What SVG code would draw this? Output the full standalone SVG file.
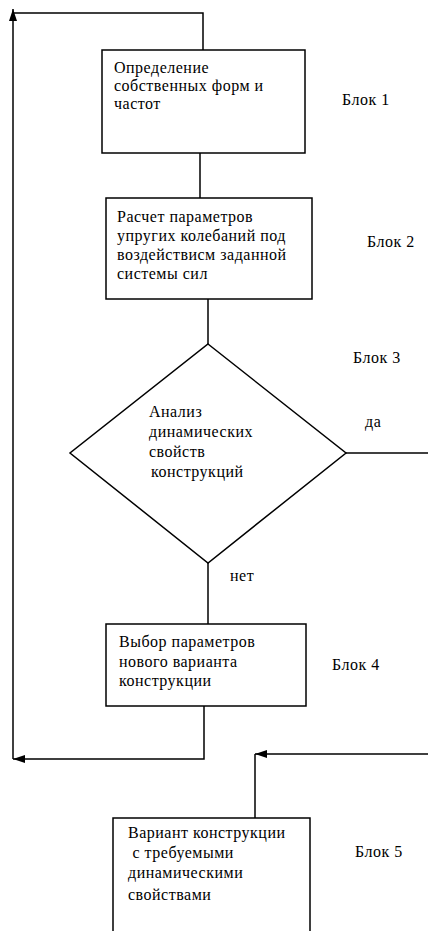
<svg xmlns="http://www.w3.org/2000/svg" width="428" height="931" viewBox="0 0 428 931">
<defs>
<marker id="ah" viewBox="0 0 12 8" refX="12" refY="4" markerWidth="12" markerHeight="8" markerUnits="userSpaceOnUse" orient="auto">
<path d="M0,0 L12,4 L0,8 Z" fill="#000"/>
</marker>
<style>
.box{fill:#fff;stroke:#000;stroke-width:1.5}
.ln{fill:none;stroke:#000;stroke-width:1.5}
.t{font-family:"Liberation Serif","Times New Roman",serif;font-size:16px;letter-spacing:0.5px;fill:#000}
</style>
</defs>
<rect width="428" height="931" fill="#fff"/>
<g id="connectors">
<path class="ln" d="M200,153 V198"/>
<path class="ln" d="M208,299 V344"/>
<path class="ln" d="M346,453 H428"/>
<path class="ln" d="M208,563 V624"/>
<path class="ln" d="M204,706 V759 H13" marker-end="url(#ah)"/>
<path class="ln" d="M13,759 V9" marker-end="url(#ah)"/>
<path class="ln" d="M13,13 H203 V50"/>
<path class="ln" d="M428,754 H255" marker-end="url(#ah)"/>
<path class="ln" d="M255,754 V818"/>
</g>
<g id="block1" class="t" font-family="Liberation Serif, serif" font-size="16">
<rect class="box" x="102" y="50" width="203" height="103"/>
<text x="114" y="73">Определение</text>
<text x="114" y="91">собственных форм и</text>
<text x="114" y="109">частот</text>
<text x="342" y="105">Блок 1</text>
</g>
<g id="block2" class="t" font-family="Liberation Serif, serif" font-size="16">
<rect class="box" x="106" y="198" width="206" height="101"/>
<text x="117" y="222">Расчет параметров</text>
<text x="117" y="241">упругих колебаний под</text>
<text x="117" y="260">воздействисм заданной</text>
<text x="117" y="279">системы сил</text>
<text x="367" y="247">Блок 2</text>
</g>
<g id="block3" class="t" font-family="Liberation Serif, serif" font-size="16">
<polygon class="box" points="208,344 346,453 208,563 70,453"/>
<text x="149" y="417">Анализ</text>
<text x="149" y="437">динамических</text>
<text x="149" y="457">свойств</text>
<text x="151" y="477">конструкций</text>
<text x="353" y="363">Блок 3</text>
<text x="365" y="427">да</text>
<text x="230" y="581">нет</text>
</g>
<g id="block4" class="t" font-family="Liberation Serif, serif" font-size="16">
<rect class="box" x="106" y="624" width="200" height="82"/>
<text x="119" y="647">Выбор параметров</text>
<text x="119" y="667">нового варианта</text>
<text x="119" y="686">конструкции</text>
<text x="332" y="670">Блок 4</text>
</g>
<g id="block5" class="t" font-family="Liberation Serif, serif" font-size="16">
<rect class="box" x="113" y="818" width="197" height="130"/>
<text x="128" y="838">Вариант конструкции</text>
<text x="128" y="858" xml:space="preserve"> с требуемыми</text>
<text x="128" y="878">динамическими</text>
<text x="128" y="900">свойствами</text>
<text x="355" y="857">Блок 5</text>
</g>
</svg>
